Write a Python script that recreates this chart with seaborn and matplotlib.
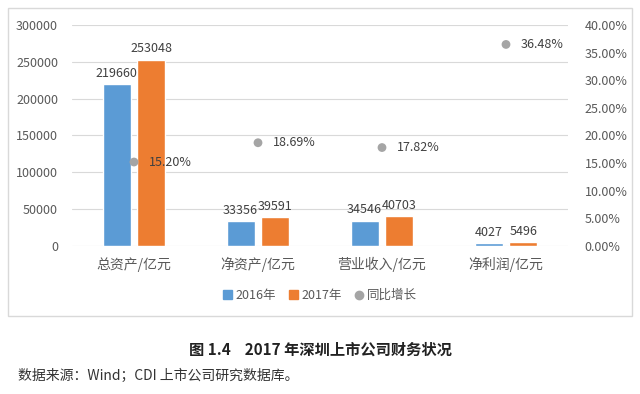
import pandas as pd
import matplotlib
matplotlib.use("Agg")
import matplotlib.pyplot as plt
import seaborn as sns
from matplotlib.patches import Rectangle
from matplotlib.lines import Line2D

# data
categories = ["总资产/亿元", "净资产/亿元", "营业收入/亿元", "净利润/亿元"]
values_2016 = [219660, 33356, 34546, 4027]
values_2017 = [253048, 39591, 40703, 5496]
growth = [15.20, 18.69, 17.82, 36.48]
series_names = ["2016年", "2017年"]
right_ticks = [0, 5, 10, 15, 20, 25, 30, 35, 40]

sns.set_style("white")
plt.rcParams["font.family"] = ["Noto Sans CJK SC", "DejaVu Sans"]

df = pd.DataFrame({
    "cat": categories * 2,
    "year": [series_names[0]] * 4 + [series_names[1]] * 4,
    "val": values_2016 + values_2017,
})

fig = plt.figure(figsize=(6.4, 3.94), dpi=100)
ax = fig.add_axes([0.1125, 0.3756, 0.775, 0.561])

# outer chart frame
fig.patches.append(Rectangle((0.0125, 0.198), 0.975, 0.782, transform=fig.transFigure,
                             fill=False, edgecolor="#d9d9d9", linewidth=1.0))

colors = ["#5B9BD5", "#ED7D31"]
sns.barplot(data=df, x="cat", y="val", hue="year", palette=colors, ax=ax,
            width=0.56, gap=0.2, legend=False, saturation=1)

for cont in ax.containers:
    ax.bar_label(cont, fmt="%d", padding=3, fontsize=9, color="#404040")

ax.set_ylim(0, 300000)
ax.set_yticks(range(0, 300001, 50000))
ax.yaxis.grid(True, color="#d9d9d9", linewidth=0.8)
ax.set_axisbelow(True)
for s in ax.spines.values():
    s.set_visible(False)
ax.tick_params(axis="both", length=0, labelsize=9, colors="#595959")
ax.tick_params(axis="y", pad=10)
ax.tick_params(axis="x", labelsize=10, pad=8)
ax.set_xlabel("")
ax.set_ylabel("")
ax.set_xlim(-0.5, 3.5)

ax2 = ax.twinx()
sns.scatterplot(x=list(range(4)), y=growth, ax=ax2, color="#A5A5A5", s=40,
                edgecolor="none", legend=False)
for i, g in enumerate(growth):
    ax2.text(i + 0.12, g, f"{g:.2f}%", va="center", ha="left", fontsize=9, color="#404040")
ax2.set_ylim(0, 40)
ax2.set_yticks(right_ticks)
ax2.set_yticklabels([f"{t:.2f}%" for t in right_ticks])
ax2.tick_params(axis="y", length=0, labelsize=9, colors="#595959", pad=12)
for s in ax2.spines.values():
    s.set_visible(False)
ax2.set_xlim(-0.5, 3.5)

handles = [
    Rectangle((0, 0), 1, 1, color=colors[0]),
    Rectangle((0, 0), 1, 1, color=colors[1]),
    Line2D([], [], marker="o", linestyle="", color="#A5A5A5", markersize=6),
]
fig.legend(handles, series_names + ["同比增长"], loc="center", bbox_to_anchor=(0.5, 0.25),
           ncol=3, frameon=False, fontsize=9, handlelength=0.7, handleheight=0.7,
           handletextpad=0.3, columnspacing=1.0, labelcolor="#595959")

fig.text(0.5, 0.112, "图 1.4    2017 年深圳上市公司财务状况", ha="center", va="center",
         fontsize=11, fontweight="bold", color="#222222")
fig.text(0.028, 0.045, "数据来源：Wind；CDI 上市公司研究数据库。", ha="left", va="center",
         fontsize=10, color="#333333")

fig.savefig("out.png", dpi=100)
